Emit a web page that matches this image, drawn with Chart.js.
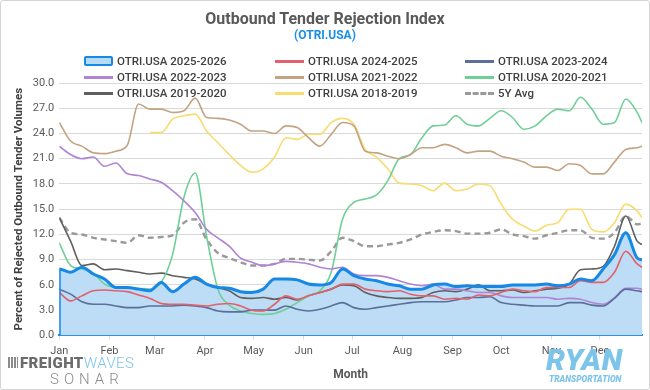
<!DOCTYPE html>
<html>
<head>
<meta charset="utf-8">
<script src="https://cdn.jsdelivr.net/npm/chart.js@4.4.1/dist/chart.umd.min.js"></script>
<style>
  body { margin: 0; background: #fff; font-family: Roboto, "Liberation Sans", sans-serif; }
  #wrap { position: relative; width: 650px; height: 390px; overflow: hidden; }
  #frame { position: absolute; left: 0; top: 0; width: 648px; height: 388px; border: 1px solid #d4d4d4; border-radius: 3px; pointer-events: none; }
  canvas { position: absolute; left: 0; top: 0; }
  #title { position: absolute; top: 9px; width: 650px; text-align: center; font-size: 16px; font-weight: 700; color: #595959; }
  #sub { position: absolute; top: 28px; width: 650px; text-align: center; font-size: 12px; font-weight: 700; color: #1a8fe6; }
  #legend { position: absolute; left: 84px; top: 53px; display: grid; grid-template-columns: 191px 190px 170px; grid-auto-rows: 16px; }
  .item { display: flex; align-items: center; font-size: 11.5px; font-weight: 500; color: #404040; white-space: nowrap; }
  .sw { display: inline-block; width: 29px; height: 3px; margin-right: 4px; }
  .box { box-sizing: border-box; height: 10px; border: 2px solid #1688e5; background: #b7dbf6; border-radius: 2px; }
  .dash { background: none; border-top: 3px dashed #9a9a9a; height: 0; }
  #fw { position: absolute; left: 8px; top: 354px; font-size: 15px; letter-spacing: 0.4px; }
  #fw .bars { display: inline-block; width: 10px; height: 11px; margin-right: 2px; background: repeating-linear-gradient(90deg, #8a8a8a 0 2px, #fff 2px 3px); }
  #fw .a { font-weight: 900; color: #6b6b6b; }
  #fw .b { font-weight: 300; color: #7cc4ea; }
  #sonar { position: absolute; left: 50px; top: 370px; font-size: 15px; font-weight: 300; letter-spacing: 5px; color: #8a8a8a; }
  #ryan { position: absolute; left: 546px; top: 342px; font-size: 30px; font-weight: 900; font-style: italic; color: #7cc4ea; letter-spacing: 0.5px; }
  #trans { position: absolute; left: 549px; top: 374px; font-size: 8.5px; font-weight: 900; font-style: italic; color: #7cc4ea; }
</style>
</head>
<body>
<div id="wrap">
  <canvas id="chart" width="650" height="390"></canvas>
  <div id="title">Outbound Tender Rejection Index</div>
  <div id="sub">(OTRI.USA)</div>
  <div id="legend"></div>
  <div id="fw"><span class="bars"></span><span class="a">FREIGHT</span><span class="b">WAVES</span></div>
  <div id="sonar">SONAR</div>
  <div id="ryan">RYAN</div>
  <div id="trans">TRANSPORTATION</div>
  <div id="frame"></div>
</div>
<script>
// day of year for each reading (weekly)
const days = [0,7,14,21,28,35,42,49,56,63,70,77,84,91,98,105,112,119,126,133,140,147,154,161,168,175,
  182,189,196,203,210,217,224,231,238,245,252,259,266,273,280,287,294,301,308,315,322,329,336,343,350,357,360];

const monthStarts = [0,31,59,90,120,151,181,212,243,273,304,334];
const monthNames = ['Jan','Feb','Mar','Apr','May','Jun','Jul','Aug','Sep','Oct','Nov','Dec'];

const y2025 = [7.9,7.5,8.1,7.3,6.7,5.7,5.7,5.5,5.3,6.3,5.2,6.1,6.9,6.1,5.7,5.6,5.2,5.1,5.5,6.7,6.7,6.6,6.1,6.0,6.3,7.9,
  7.1,6.7,6.5,6.1,5.9,5.5,5.5,6.0,6.1,5.8,5.9,5.8,5.8,5.8,6.0,6.0,6.0,6.1,5.9,6.1,6.7,6.5,7.9,9.6,12.2,9.2,9.0];
const y2024 = [5.1,4.1,4.7,5.3,5.4,5.3,5.2,4.8,4.4,3.8,3.7,3.7,3.6,3.5,3.7,3.8,3.5,3.0,2.9,3.7,4.7,4.3,4.7,5.1,5.5,6.1,
  6.1,5.5,5.3,5.2,5.3,4.9,4.7,4.7,4.3,4.4,4.3,4.8,4.7,5.1,5.5,5.3,5.2,5.7,5.7,5.7,6.5,6.3,6.3,7.5,10.0,8.5,8.1];
const y2023 = [5.5,4.9,4.0,3.7,3.7,3.5,3.3,3.3,3.5,3.5,3.5,3.6,3.5,3.3,2.9,2.8,2.8,3.0,3.0,3.0,3.5,3.1,2.9,3.1,3.5,3.9,
  3.3,3.1,3.3,3.5,3.7,3.9,4.0,4.0,4.0,4.2,4.5,4.5,4.6,3.9,3.7,3.6,3.5,3.5,3.5,3.9,3.9,3.6,3.5,4.4,5.5,5.3,5.2];
const y2022 = [22.5,21.5,21.0,21.2,20.1,20.5,19.2,19.0,18.6,18.2,17.2,16.0,14.6,12.6,11.6,10.6,9.2,8.7,8.3,8.5,8.8,8.7,8.5,8.1,7.9,8.1,
  7.3,7.1,7.1,6.9,6.5,6.1,5.9,6.1,5.5,5.5,5.3,5.1,5.1,4.7,4.5,4.5,4.5,4.5,4.3,4.4,4.3,3.9,3.7,4.5,5.6,5.6,5.5];
const y2021 = [25.3,23.1,22.5,21.7,21.6,21.9,22.6,27.5,26.9,26.9,26.5,26.7,28.2,25.9,25.8,25.6,25.1,24.3,24.3,24.0,24.9,24.7,23.5,22.5,23.9,25.3,
  24.9,21.9,21.7,21.3,21.0,21.5,22.3,22.3,22.7,22.3,21.7,21.9,21.9,21.3,21.0,20.6,20.0,20.0,19.6,20.4,20.2,19.2,19.2,20.6,22.1,22.3,22.5];
const y2020 = [11.0,8.3,7.9,7.4,6.1,5.7,5.7,5.6,5.5,6.3,9.6,16.4,19.3,11.8,5.5,3.6,2.9,2.6,2.5,2.6,3.1,3.9,4.7,5.3,7.5,13.8,
  15.8,16.2,16.7,18.4,21.0,21.5,23.5,24.9,25.0,26.1,25.1,24.9,25.8,26.7,25.9,24.5,24.9,26.1,26.9,26.7,28.3,26.9,25.1,25.3,28.1,26.5,25.3];
const y2019 = [14.0,11.2,8.3,8.5,7.8,7.9,7.7,7.5,7.3,7.4,7.1,6.9,6.7,6.1,5.7,5.3,4.5,4.4,4.5,4.3,4.5,4.2,4.7,5.1,5.5,6.0,
  5.9,5.1,4.7,4.5,4.4,4.4,4.5,5.1,5.3,5.2,5.5,6.0,5.3,5.3,5.4,5.1,5.3,5.5,5.6,6.1,7.8,7.9,8.2,10.6,14.2,11.2,10.8];
const y2018 = [null,null,null,null,null,null,null,null,24.1,24.1,25.7,26.1,26.3,24.3,22.9,21.5,20.2,19.4,19.8,21.2,23.5,23.3,23.9,23.9,25.3,25.8,
  25.1,22.1,21.2,19.8,18.1,18.0,17.8,17.2,18.1,17.2,17.4,18.0,17.8,15.6,13.8,13.0,12.4,13.1,13.4,15.0,15.0,12.6,12.3,13.4,15.6,14.8,14.0];
const avg5y = [14.0,12.2,12.0,11.6,11.4,11.2,11.0,11.9,11.6,11.7,11.9,13.4,13.8,11.4,9.8,9.2,8.7,8.3,8.3,8.5,9.1,9.1,9.0,8.9,10.0,11.6,
  11.2,10.6,10.6,10.8,11.0,11.4,12.0,12.3,12.5,12.4,12.1,12.1,12.2,12.6,12.0,11.8,11.5,11.9,12.2,12.5,12.5,11.6,11.5,12.2,14.2,13.2,13.3];

const series = [
  { label: 'OTRI.USA 2025-2026', vals: y2025, color: '#1688e5', width: 3, sw: 'box' },
  { label: 'OTRI.USA 2024-2025', vals: y2024, color: '#e4606a', width: 1.6 },
  { label: 'OTRI.USA 2023-2024', vals: y2023, color: '#5a6f99', width: 1.6 },
  { label: 'OTRI.USA 2022-2023', vals: y2022, color: '#b084d4', width: 1.6 },
  { label: 'OTRI.USA 2021-2022', vals: y2021, color: '#c4a383', width: 1.6 },
  { label: 'OTRI.USA 2020-2021', vals: y2020, color: '#6fcf97', width: 1.6 },
  { label: 'OTRI.USA 2019-2020', vals: y2019, color: '#5f5f5f', width: 1.6 },
  { label: 'OTRI.USA 2018-2019', vals: y2018, color: '#f7dc6f', width: 1.6 },
  { label: '5Y Avg', vals: avg5y, color: '#9a9a9a', width: 2.4, dash: [6, 4], sw: 'dash' }
];

// legend in three columns like the original
const leg = document.getElementById('legend');
series.forEach(s => {
  const it = document.createElement('div');
  it.className = 'item';
  const sw = document.createElement('span');
  sw.className = 'sw' + (s.sw ? ' ' + s.sw : '');
  if (!s.sw) sw.style.background = s.color;
  it.appendChild(sw);
  it.appendChild(document.createTextNode(s.label));
  leg.appendChild(it);
});

const toPts = vals => days.map((d, i) => ({ x: d, y: vals[i] }));

const datasets = series.map((s, i) => {
  let data = toPts(s.vals);
  if (i === 0) data = [{ x: days[0], y: 0 }].concat(data);
  return {
    label: s.label,
    data: data,
    borderColor: s.color,
    borderWidth: s.width,
    borderDash: s.dash || [],
    pointRadius: 0,
    cubicInterpolationMode: 'monotone',
    fill: i === 0 ? 'origin' : false,
    backgroundColor: i === 0 ? '#bddcf5' : s.color,
    spanGaps: false
  };
});

new Chart(document.getElementById('chart'), {
  type: 'line',
  data: { datasets: datasets },
  options: {
    responsive: false,
    animation: false,
    layout: { padding: { top: 83, left: 10, right: 8, bottom: 8 } },
    plugins: {
      legend: { display: false },
      tooltip: { enabled: false },
      filler: { drawTime: 'beforeDatasetsDraw' }
    },
    scales: {
      x: {
        type: 'linear',
        min: 0,
        max: 360,
        afterBuildTicks: axis => { axis.ticks = monthStarts.map(v => ({ value: v })); },
        ticks: {
          autoSkip: false,
          maxRotation: 0,
          padding: 5,
          color: '#595959',
          font: { size: 11, family: 'Roboto' },
          callback: v => monthNames[monthStarts.indexOf(v)]
        },
        grid: { display: true, drawOnChartArea: false, drawTicks: true, tickLength: 4, color: '#d9d9d9' },
        border: { color: '#1688e5', width: 2 },
        title: { display: true, text: 'Month', color: '#595959', font: { size: 12, weight: 'bold', family: 'Roboto' }, padding: { top: 5, bottom: 0 } }
      },
      y: {
        min: 0,
        max: 30,
        ticks: {
          stepSize: 3,
          padding: 5,
          color: '#595959',
          font: { size: 11, family: 'Roboto' },
          callback: v => v.toFixed(1)
        },
        grid: { color: '#d9d9d9', drawTicks: false },
        border: { display: false },
        title: { display: true, text: 'Percent of Rejected Outbound Tender Volumes', color: '#404040', font: { size: 11.5, weight: 'bold', family: 'Roboto' }, padding: 2 }
      }
    }
  }
});
</script>
</body>
</html>
